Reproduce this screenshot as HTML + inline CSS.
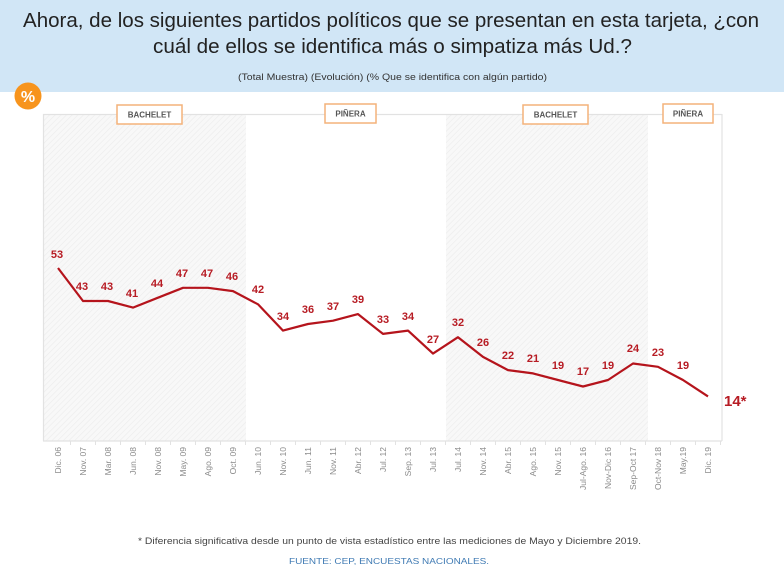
<!DOCTYPE html>
<html><head><meta charset="utf-8"><style>
html,body{margin:0;padding:0;background:#fff;}
svg{display:block;}
text{font-family:"Liberation Sans",Arial,sans-serif;}
</style></head><body>
<svg width="784" height="569" viewBox="0 0 784 569" xmlns="http://www.w3.org/2000/svg">
<defs>
<pattern id="h" width="4" height="4" patternUnits="userSpaceOnUse" patternTransform="rotate(45)">
<rect width="4" height="4" fill="#f8f8f8"/>
<line x1="0" y1="0" x2="0" y2="4" stroke="#ececec" stroke-width="1.2"/>
</pattern>
</defs>
<rect x="0" y="0" width="784" height="92" fill="#d1e6f6"/>
<text x="23" y="27" font-size="20" fill="#222" textLength="736" lengthAdjust="spacingAndGlyphs">Ahora, de los siguientes partidos políticos que se presentan en esta tarjeta, ¿con</text>
<text x="153" y="53" font-size="20" fill="#222" textLength="479" lengthAdjust="spacingAndGlyphs">cuál de ellos se identifica más o simpatiza más Ud.?</text>
<text x="238" y="80" font-size="9" fill="#333" textLength="309" lengthAdjust="spacingAndGlyphs">(Total Muestra) (Evolución) (% Que se identifica con algún partido)</text>
<circle cx="28" cy="96" r="13.5" fill="#f7941d"/>
<text x="28" y="102" font-size="16" font-weight="bold" fill="#fff" text-anchor="middle">%</text>

<rect x="44" y="114" width="202" height="327" fill="url(#h)"/>
<rect x="446" y="114" width="202" height="327" fill="url(#h)"/>
<g stroke="#e2e2e2" stroke-width="1.2" fill="none">
<line x1="43" y1="114.5" x2="722" y2="114.5"/>
<line x1="43.5" y1="114" x2="43.5" y2="441"/>
<line x1="722" y1="114" x2="722" y2="441"/>
<line x1="43" y1="441" x2="722" y2="441"/>
</g>
<g stroke="#e2e2e2" stroke-width="1">
<line x1="70.5" y1="441" x2="70.5" y2="445"/><line x1="95.5" y1="441" x2="95.5" y2="445"/><line x1="120.5" y1="441" x2="120.5" y2="445"/><line x1="145.5" y1="441" x2="145.5" y2="445"/><line x1="170.5" y1="441" x2="170.5" y2="445"/><line x1="195.5" y1="441" x2="195.5" y2="445"/><line x1="220.5" y1="441" x2="220.5" y2="445"/><line x1="245.5" y1="441" x2="245.5" y2="445"/><line x1="270.5" y1="441" x2="270.5" y2="445"/><line x1="295.5" y1="441" x2="295.5" y2="445"/><line x1="320.5" y1="441" x2="320.5" y2="445"/><line x1="345.5" y1="441" x2="345.5" y2="445"/><line x1="370.5" y1="441" x2="370.5" y2="445"/><line x1="395.5" y1="441" x2="395.5" y2="445"/><line x1="420.5" y1="441" x2="420.5" y2="445"/><line x1="445.5" y1="441" x2="445.5" y2="445"/><line x1="470.5" y1="441" x2="470.5" y2="445"/><line x1="495.5" y1="441" x2="495.5" y2="445"/><line x1="520.5" y1="441" x2="520.5" y2="445"/><line x1="545.5" y1="441" x2="545.5" y2="445"/><line x1="570.5" y1="441" x2="570.5" y2="445"/><line x1="595.5" y1="441" x2="595.5" y2="445"/><line x1="620.5" y1="441" x2="620.5" y2="445"/><line x1="645.5" y1="441" x2="645.5" y2="445"/><line x1="670.5" y1="441" x2="670.5" y2="445"/><line x1="695.5" y1="441" x2="695.5" y2="445"/><line x1="720.5" y1="441" x2="720.5" y2="445"/>
</g>

<g font-size="8" font-weight="bold" fill="#555" text-anchor="middle">
<rect x="117" y="105" width="65" height="19" fill="#fff" stroke="#f4b27a" stroke-width="1.5"/>
<text x="149.5" y="117.5">BACHELET</text>
<rect x="325" y="104" width="51" height="19" fill="#fff" stroke="#f4b27a" stroke-width="1.5"/>
<text x="350.5" y="116.5">PIÑERA</text>
<rect x="523" y="105" width="65" height="19" fill="#fff" stroke="#f4b27a" stroke-width="1.5"/>
<text x="555.5" y="117.5">BACHELET</text>
<rect x="663" y="104" width="50" height="19" fill="#fff" stroke="#f4b27a" stroke-width="1.5"/>
<text x="688" y="116.5">PIÑERA</text>
</g>

<polyline fill="none" stroke="#b5141c" stroke-width="2.2" stroke-linejoin="round" points="58,268 83,301 108,301 133,307.6 158,297.7 183,287.8 208,287.8 233,291.1 258,304.3 283,330.6 308,324 333,320.7 358,314.1 383,333.9 408,330.6 433,353.6 458,337.2 483,356.9 508,370.1 533,373.4 558,380 583,386.5 608,380 633,363.5 658,366.8 683,380 708,396.4"/>

<g font-size="11" font-weight="bold" fill="#b71c24" text-anchor="middle">
<text x="57" y="258">53</text><text x="82" y="290">43</text><text x="107" y="290">43</text><text x="132" y="297">41</text><text x="157" y="287">44</text><text x="182" y="277">47</text><text x="207" y="277">47</text><text x="232" y="280">46</text><text x="258" y="293">42</text><text x="283" y="320">34</text><text x="308" y="313">36</text><text x="333" y="310">37</text><text x="358" y="303">39</text><text x="383" y="323">33</text><text x="408" y="320">34</text><text x="433" y="343">27</text><text x="458" y="326">32</text><text x="483" y="346">26</text><text x="508" y="359">22</text><text x="533" y="362">21</text><text x="558" y="369">19</text><text x="583" y="375">17</text><text x="608" y="369">19</text><text x="633" y="352">24</text><text x="658" y="356">23</text><text x="683" y="369">19</text>
</g>
<text x="724" y="406" font-size="15" font-weight="bold" fill="#b71c24">14*</text>

<g font-size="8.5" fill="#8a8a8a" text-anchor="end">
<text transform="translate(61,447) rotate(-90)">Dic. 06</text>
<text transform="translate(86,447) rotate(-90)">Nov. 07</text>
<text transform="translate(111,447) rotate(-90)">Mar. 08</text>
<text transform="translate(136,447) rotate(-90)">Jun. 08</text>
<text transform="translate(161,447) rotate(-90)">Nov. 08</text>
<text transform="translate(186,447) rotate(-90)">May. 09</text>
<text transform="translate(211,447) rotate(-90)">Ago. 09</text>
<text transform="translate(236,447) rotate(-90)">Oct. 09</text>
<text transform="translate(261,447) rotate(-90)">Jun. 10</text>
<text transform="translate(286,447) rotate(-90)">Nov. 10</text>
<text transform="translate(311,447) rotate(-90)">Jun. 11</text>
<text transform="translate(336,447) rotate(-90)">Nov. 11</text>
<text transform="translate(361,447) rotate(-90)">Abr. 12</text>
<text transform="translate(386,447) rotate(-90)">Jul. 12</text>
<text transform="translate(411,447) rotate(-90)">Sep. 13</text>
<text transform="translate(436,447) rotate(-90)">Jul. 13</text>
<text transform="translate(461,447) rotate(-90)">Jul. 14</text>
<text transform="translate(486,447) rotate(-90)">Nov. 14</text>
<text transform="translate(511,447) rotate(-90)">Abr. 15</text>
<text transform="translate(536,447) rotate(-90)">Ago. 15</text>
<text transform="translate(561,447) rotate(-90)">Nov. 15</text>
<text transform="translate(586,447) rotate(-90)">Jul-Ago. 16</text>
<text transform="translate(611,447) rotate(-90)">Nov-Dic 16</text>
<text transform="translate(636,447) rotate(-90)">Sep-Oct 17</text>
<text transform="translate(661,447) rotate(-90)">Oct-Nov 18</text>
<text transform="translate(686,447) rotate(-90)">May.19</text>
<text transform="translate(711,447) rotate(-90)">Dic. 19</text>
</g>

<text x="138" y="544" font-size="9.5" fill="#444" textLength="503" lengthAdjust="spacingAndGlyphs">* Diferencia significativa desde un punto de vista estadístico entre las mediciones de Mayo y Diciembre 2019.</text>
<text x="289" y="564" font-size="8.5" fill="#3f7ab3" textLength="200" lengthAdjust="spacingAndGlyphs">FUENTE: CEP, ENCUESTAS NACIONALES.</text>
</svg>
</body></html>
